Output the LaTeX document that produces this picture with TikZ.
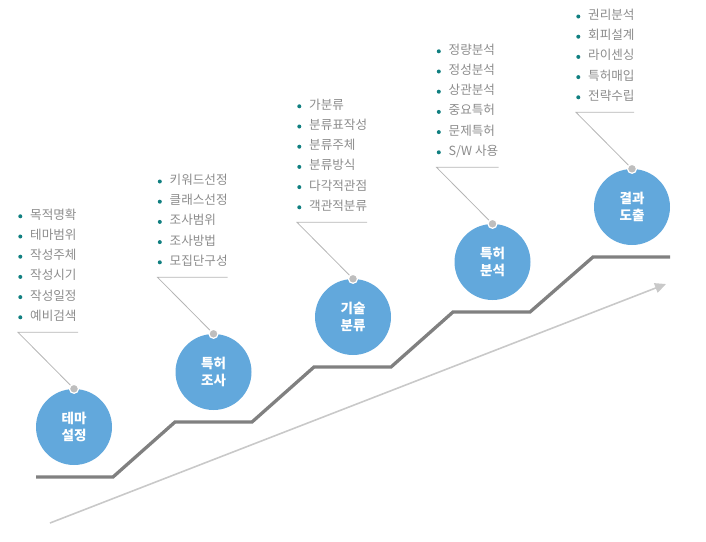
\documentclass[tikz,border=0pt]{standalone}
\usepackage{fontspec}
\setmainfont{Noto Sans CJK KR}
\usepackage{tikz}
\usetikzlibrary{positioning, arrows.meta, calc}

\definecolor{stageblue}{HTML}{62A8DC}
\definecolor{stairgray}{HTML}{808080}
\definecolor{arrowgray}{HTML}{C9C9C9}
\definecolor{leadgray}{HTML}{B5B5B5}
\definecolor{pingray}{HTML}{BEBEBE}
\definecolor{itemgray}{HTML}{8C8C8C}
\definecolor{bulletteal}{HTML}{107F80}

\begin{document}
\begin{tikzpicture}[
    x=1pt, y=-1pt,
    stage/.style={circle, fill=stageblue, minimum size=76pt, inner sep=0pt, align=center, text=white, font=\bfseries\fontsize{13.5}{16.5}\selectfont},
    pin/.style={circle, fill=pingray, draw=white, line width=1.2pt, minimum size=9pt, inner sep=0pt},
    leader/.style={draw=leadgray, line width=0.8pt},
    bullet/.style={circle, fill=bulletteal, minimum size=4pt, inner sep=0pt},
    item/.style={anchor=west, inner sep=0pt, text height=9pt, text depth=3pt, text=itemgray, font=\fontsize{12.6}{14}\selectfont, label={[bullet, label distance=7.5pt]left:{}}},
    stair/.style={draw=stairgray, line width=3.3pt},
    trend/.style={draw=arrowgray, line width=1.6pt, -{Triangle[length=11pt, width=10pt]}}
]
\useasboundingbox (0,0) rectangle (706,541);

% Rising trend arrow
\coordinate (trend-start) at (50,523);
\coordinate (trend-end) at (666,284);
\draw[trend] (trend-start) -- (trend-end);

% Stairs
\draw[stair] (36,477) -- ++(77,0) -- ++(62,-55) -- ++(77,0) -- ++(62,-55) -- ++(77,0)
    -- ++(62,-55) -- ++(77,0) -- ++(63,-55) -- ++(77,0);

% Stages
\node[stage] (theme) at (74,427) {테마\\설정};
\node[stage] (survey) at (213.5,372) {특허\\조사};
\node[stage] (classify) at (353,317) {기술\\분류};
\node[stage] (analysis) at (492.5,262) {특허\\분석};
\node[stage] (outcome) at (632,207) {결과\\도출};

% Leader lines
\foreach \s/\w in {theme/60, survey/70, classify/70, analysis/62, outcome/58} {
    \node[pin] (\s-pin) at (\s.north) {};
    \coordinate (\s-l) at ($(\s-pin)+(-56,-56.5)$);
    \coordinate (\s-r) at ($(\s-l)+(\w,0)$);
    \draw[leader] (\s-pin) -- (\s-l) -- (\s-r);
}

% Item lists
\foreach \t [count=\k] in {목적명확, 테마범위, 작성주체, 작성시기, 작성일정, 예비검색}
    \node[item] (theme-\k) at ($(theme-l)+(12,{-15-(6-\k)*20.2})$) {\t};
\foreach \t [count=\k] in {키워드선정, 클래스선정, 조사범위, 조사방법, 모집단구성}
    \node[item] (survey-\k) at ($(survey-l)+(12,{-15-(5-\k)*20.2})$) {\t};
\foreach \t [count=\k] in {가분류, 분류표작성, 분류주체, 분류방식, 다각적관점, 객관적분류}
    \node[item] (classify-\k) at ($(classify-l)+(12,{-15-(6-\k)*20.2})$) {\t};
\foreach \t [count=\k] in {정량분석, 정성분석, 상관분석, 중요특허, 문제특허, S/W 사용}
    \node[item] (analysis-\k) at ($(analysis-l)+(12,{-15-(6-\k)*20.2})$) {\t};
\foreach \t [count=\k] in {권리분석, 회피설계, 라이센싱, 특허매입, 전략수립}
    \node[item] (outcome-\k) at ($(outcome-l)+(12,{-15-(5-\k)*20.2})$) {\t};

\end{tikzpicture}
\end{document}
